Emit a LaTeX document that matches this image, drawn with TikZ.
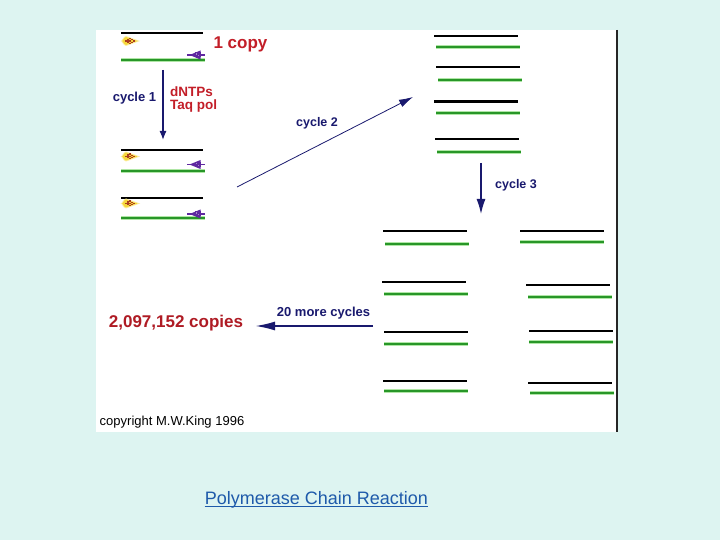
\documentclass[tikz,border=0pt]{standalone}
\usepackage{fontspec}
\setmainfont{Liberation Sans}
\usetikzlibrary{arrows.meta}
\definecolor{bgcyan}{RGB}{221,244,241}
\definecolor{navy}{RGB}{25,25,110}
\definecolor{dred}{RGB}{195,30,40}
\definecolor{dnagreen}{RGB}{40,150,40}
\definecolor{glowgreen}{RGB}{175,230,165}
\definecolor{linkblue}{RGB}{30,90,170}
\definecolor{primeryellow}{RGB}{245,215,60}
\definecolor{glowyellow}{RGB}{252,238,160}
\definecolor{primerpurple}{RGB}{95,40,160}
\definecolor{dotred}{RGB}{170,60,30}
\tikzset{
  strand/.style={line width=2.2pt, black},
  tmplglow/.style={line width=3.6pt, glowgreen},
  tmpl/.style={line width=2pt, dnagreen},
  navyarrow/.style={navy, line width=1.3pt},
  redlabel/.style={text=dred, font=\bfseries, inner sep=0pt},
  navylabel/.style={text=navy, font=\bfseries, inner sep=0pt},
  yprimer/.pic={
    \fill[glowyellow] (-1.5,0) to[out=-90,in=180] (4,-5) -- (18,0) -- (4,5) to[out=180,in=90] (-1.5,0) -- cycle;
    \fill[primeryellow] (0,0) to[out=-90,in=180] (4,-4) -- (15.5,0) -- (4,4) to[out=180,in=90] (0,0) -- cycle;
    \foreach \p in {(4,0),(6,-1.4),(6,1.4),(8,0),(10,-1.2),(10,1.2),(12,0),(6,0),(8,-2.4),(8,2.4)}
      \fill[dotred] \p ++(-0.6,-0.6) rectangle ++(1.2,1.2);
  },
  pprimer/.pic={
    \draw[primerpurple, line width=1.4pt] (0,0) -- (17.5,0);
    \fill[primerpurple] (2.5,0) -- (13.5,-4.5) -- (13.5,4.5) -- cycle;
    \fill[primerpurple] (8,-2.5) rectangle (13.5,2.5);
    \fill[primerpurple!55!white] (8.5,-1.5) rectangle (9.7,-0.3);
    \fill[primerpurple!55!white] (11,0.3) rectangle (12.2,1.5);
  }
}
\begin{document}
\begin{tikzpicture}[x=1pt,y=-1pt]
\useasboundingbox (0,0) rectangle (720,540);
\fill[bgcyan] (0,0) rectangle (720,540);
\fill[white] (96,30) rectangle (617,432);
\draw[line width=1.5pt, black!85] (617,30) -- (617,432);

% ---- group 1 (1 copy)
\draw[strand] (121,33) -- (203,33);
\draw[tmplglow] (121,60) -- (205,60);
\draw[tmpl] (121,60) -- (205,60);
\pic at (122,41) {yprimer};
\pic at (187,55) {pprimer};
\node[redlabel, font=\bfseries\fontsize{17}{19}\selectfont] (copy1) at (240.5,44) {1 copy};

% cycle 1
\coordinate (c1s) at (163,70);
\coordinate (c1e) at (163,140);
\draw[navyarrow, -{Latex[length=9pt,width=7pt]}] (c1s) -- (c1e);
\node[navylabel, font=\bfseries\fontsize{13}{15}\selectfont] (cyc1) at (134.5,98) {cycle 1};
\node[redlabel, anchor=west, font=\bfseries\fontsize{13.5}{15}\selectfont] (dntp) at (170,92) {dNTPs};
\node[redlabel, anchor=west, font=\bfseries\fontsize{13.5}{15}\selectfont] (taq) at (170,106.5) {Taq pol};

% ---- group 2
\draw[strand] (121,150) -- (203,150);
\draw[tmplglow] (121,171) -- (205,171);
\draw[tmpl] (121,171) -- (205,171);
\pic at (122,156.5) {yprimer};
\pic at (187,164.5) {pprimer};

% ---- group 3
\draw[strand] (121,198) -- (203,198);
\draw[tmplglow] (121,218) -- (205,218);
\draw[tmpl] (121,218) -- (205,218);
\pic at (122,203.5) {yprimer};
\pic at (187,214) {pprimer};

% cycle 2
\coordinate (c2s) at (237,187);
\coordinate (c2e) at (413,97);
\draw[navy, line width=0.8pt, -{Latex[length=14pt,width=8pt]}] (c2s) -- (c2e);
\node[navylabel, font=\bfseries\fontsize{12.5}{14}\selectfont] (cyc2) at (317,123) {cycle 2};

% ---- top right (cycle 2 products)
\foreach \xa/\yb/\yg/\lw in {434/36/47/2.2, 436/67/80/2.2, 434/102/113/3, 435/139/152/2.2}{
  \draw[strand, line width=\lw pt] (\xa,\yb) -- (\xa+84,\yb);
  \draw[tmplglow] (\xa+2,\yg) -- (\xa+86,\yg);
  \draw[tmpl] (\xa+2,\yg) -- (\xa+86,\yg);
}

% cycle 3
\coordinate (c3s) at (481,163);
\coordinate (c3e) at (481,214);
\draw[navyarrow, -{Latex[length=15pt,width=9pt]}] (c3s) -- (c3e);
\node[navylabel, font=\bfseries\fontsize{12.5}{14}\selectfont] (cyc3) at (516,185) {cycle 3};

% ---- lower right (cycle 3 products)
\foreach \xa/\yb/\xg/\yg in {383/231/385/244, 382/282/384/294, 384/332/384/344, 383/381/384/391,
                             520/231/520/242, 526/285/528/297, 529/331/529/342, 528/383/530/393}{
  \draw[strand] (\xa,\yb) -- (\xa+84,\yb);
  \draw[tmplglow] (\xg,\yg) -- (\xg+84,\yg);
  \draw[tmpl] (\xg,\yg) -- (\xg+84,\yg);
}

% 20 more cycles
\coordinate (c20s) at (373,326);
\coordinate (c20e) at (255,326);
\draw[navy, line width=2pt, -{Latex[length=20pt,width=9pt]}] (c20s) -- (c20e);
\node[navylabel, font=\bfseries\fontsize{13}{15}\selectfont] (more) at (323.5,313) {20 more cycles};
\node[redlabel, font=\bfseries\fontsize{17}{19}\selectfont, text=dred!90!black] (copies) at (176,323) {2,097,152 copies};

% copyright
\node[inner sep=0pt, font=\fontsize{13}{15}\selectfont] (copyr) at (172,422) {copyright M.W.King 1996};

% title
\node[inner sep=0pt, text=linkblue, font=\fontsize{18}{20}\selectfont] (title) at (316.5,500) {Polymerase Chain Reaction};
\draw[linkblue, line width=1.2pt] ([yshift=-2pt]title.base west) -- ([yshift=-2pt]title.base east);
\end{tikzpicture}
\end{document}
